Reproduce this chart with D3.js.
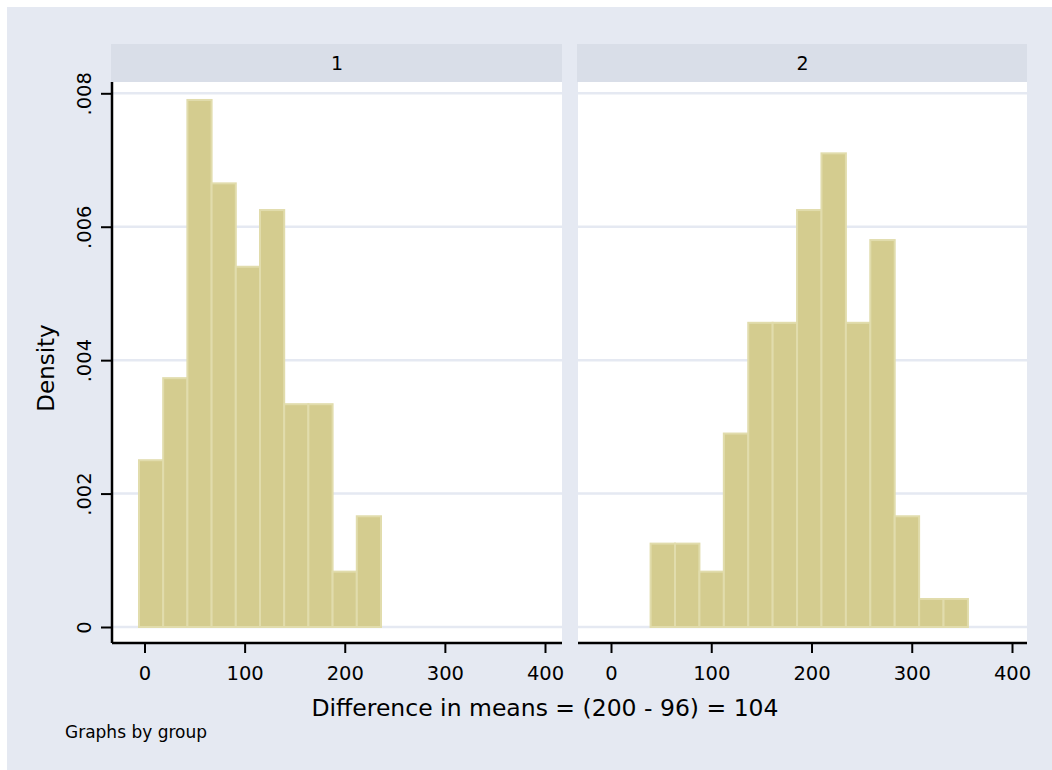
<!DOCTYPE html>
<html>
<head>
<meta charset="utf-8">
<script src="https://cdn.jsdelivr.net/npm/d3@7"></script>
<style>
  body { margin: 0; background: #fff; }
  text { font-family: 'DejaVu Sans', sans-serif; fill: #000; }
</style>
</head>
<body>
<div class="svg"></div>
<script>
const width = 1052
const height = 770

// Data
const groups = ['1', '2']
const binStart = [-5.5, 39.5]
const binWidth = [24.17, 24.35]
const density1 = [0.0025, 0.00373, 0.0079, 0.00665, 0.0054, 0.00625, 0.00334, 0.00334, 0.00083, 0.00166]
const density2 = [0.00125, 0.00125, 0.00083, 0.0029, 0.00456, 0.00456, 0.00625, 0.0071, 0.00456, 0.0058, 0.00166, 0.00042, 0.00042]
const densities = [density1, density2]
const yTicks = [0, 0.002, 0.004, 0.006, 0.008]
const xTicks = [0, 100, 200, 300, 400]

const panels = [
  { left: 112, right: 562, x0: 144.5, x400: 545 },
  { left: 578, right: 1027, x0: 611, x400: 1012 }
]
const headerTop = 44
const plotTop = 82
const plotBottom = 643

const svg = d3
  .select('.svg')
  .append('svg')
  .attr('width', width)
  .attr('height', height)

// graph region
svg
  .append('rect')
  .attr('x', 7)
  .attr('y', 7)
  .attr('width', width - 7)
  .attr('height', height - 7)
  .attr('fill', '#e5e9f2')

const yScale = d3.scaleLinear().domain([0, 0.008]).range([627, 93.3])

panels.forEach((p, i) => {
  const xScale = d3.scaleLinear().domain([0, 400]).range([p.x0, p.x400])
  const g = svg.append('g')

  // strip header
  g.append('rect')
    .attr('x', p.left - 1)
    .attr('y', headerTop)
    .attr('width', p.right - p.left + 1)
    .attr('height', plotTop - headerTop)
    .attr('fill', '#d9dee8')

  g.append('text')
    .attr('x', (p.left + p.right) / 2)
    .attr('y', 70)
    .attr('text-anchor', 'middle')
    .style('font-size', '19px')
    .text(groups[i])

  // plot area
  g.append('rect')
    .attr('x', p.left)
    .attr('y', plotTop)
    .attr('width', p.right - p.left)
    .attr('height', plotBottom - plotTop)
    .attr('fill', '#fff')

  // gridlines
  g.selectAll('.grid')
    .data(yTicks)
    .enter()
    .append('line')
    .attr('x1', p.left)
    .attr('x2', p.right)
    .attr('y1', d => yScale(d))
    .attr('y2', d => yScale(d))
    .attr('stroke', '#e5e9f2')
    .attr('stroke-width', 2.5)

  // histogram bars
  g.selectAll('.bar')
    .data(densities[i])
    .enter()
    .append('rect')
    .attr('x', (d, j) => xScale(binStart[i] + j * binWidth[i]))
    .attr('y', d => yScale(d))
    .attr('width', xScale(binWidth[i]) - xScale(0))
    .attr('height', d => yScale(0) - yScale(d))
    .attr('fill', '#d4cc8f')
    .attr('stroke', '#e1dcac')
    .attr('stroke-width', 2)

  // x axis
  const xAxis = d3.axisBottom(xScale).tickValues(xTicks).tickSize(10).tickPadding(6)
  const ax = g.append('g')
    .attr('transform', 'translate(0,' + plotBottom + ')')
    .call(xAxis)
  ax.select('.domain')
    .attr('d', 'M' + p.left + ',0H' + p.right)
    .attr('stroke-width', 2.5)
  ax.selectAll('.tick line').attr('stroke-width', 2)
  ax.selectAll('.tick text')
    .attr('y', 37)
    .attr('dy', null)
    .style('font-size', '19.5px')
    .style('font-family', "'DejaVu Sans', sans-serif")
})

// y axis (first panel only)
const yAxis = d3.axisLeft(yScale)
  .tickValues(yTicks)
  .tickSize(11)
  .tickFormat(d => (d === 0 ? '0' : d3.format('.3f')(d).replace(/^0/, '')))
const ay = svg.append('g')
  .attr('transform', 'translate(112,0)')
  .call(yAxis)
ay.select('.domain')
  .attr('d', 'M0,' + plotTop + 'V' + plotBottom)
  .attr('stroke-width', 2.5)
ay.selectAll('.tick line').attr('stroke-width', 2)
ay.selectAll('.tick text')
  .attr('x', null)
  .attr('dy', null)
  .attr('transform', 'translate(-21,0) rotate(-90)')
  .attr('text-anchor', 'middle')
  .style('font-size', '19.5px')
  .style('font-family', "'DejaVu Sans', sans-serif")

// axis titles
svg
  .append('text')
  .attr('transform', 'translate(54,368) rotate(-90)')
  .attr('text-anchor', 'middle')
  .style('font-size', '23px')
  .text('Density')

svg
  .append('text')
  .attr('x', 545)
  .attr('y', 716)
  .attr('text-anchor', 'middle')
  .style('font-size', '23.5px')
  .text('Difference in means = (200 - 96) = 104')

svg
  .append('text')
  .attr('x', 65)
  .attr('y', 738)
  .style('font-size', '17px')
  .text('Graphs by group')
</script>
</body>
</html>
